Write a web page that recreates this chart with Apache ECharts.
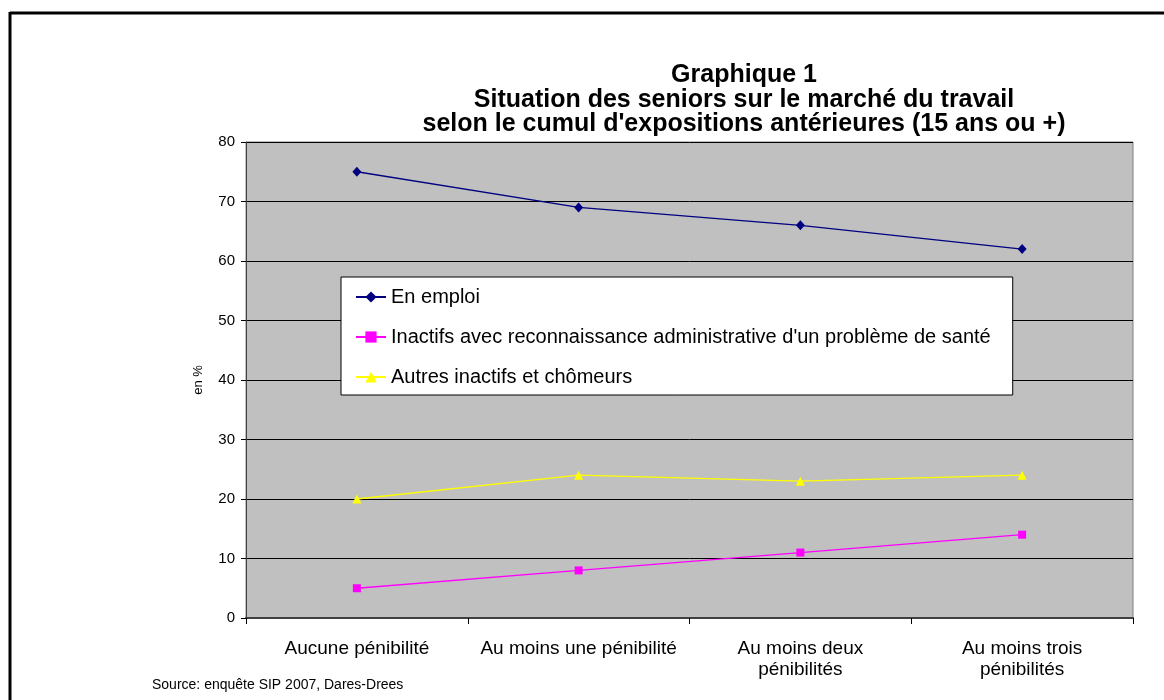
<!DOCTYPE html>
<html><head><meta charset="utf-8">
<script src="https://cdn.jsdelivr.net/npm/echarts@6/dist/echarts.min.js"></script>
<style>html,body{margin:0;padding:0;background:#fff}#c{width:1164px;height:700px}</style>
</head><body><div id="c"></div>
<script>
const categories = ["Aucune pénibilité", "Au moins une pénibilité", "Au moins deux\npénibilités", "Au moins trois\npénibilités"];
const enEmploi = [75, 69, 66, 62];
const inactifsSante = [5, 8, 11, 14];
const autresInactifs = [20, 24, 23, 24];
const seriesNames = ["En emploi", "Inactifs avec reconnaissance administrative d'un problème de santé", "Autres inactifs et chômeurs"];
const yTicks = [0, 10, 20, 30, 40, 50, 60, 70, 80];

const FONT = "Liberation Sans, Arial, sans-serif";
const chart = echarts.init(document.getElementById('c'), null, {renderer: 'canvas'});
chart.setOption({
  animation: false,
  backgroundColor: '#ffffff',
  textStyle: {fontFamily: FONT},
  title: {
    text: "Graphique 1\nSituation des seniors sur le marché du travail\nselon le cumul d'expositions antérieures (15 ans ou +)",
    left: 744, top: 63, textAlign: 'center', padding: 0,
    textStyle: {fontFamily: FONT, fontSize: 25, fontWeight: 'bold', color: '#000', lineHeight: 24.5}
  },
  graphic: [
    {type: 'line', shape: {x1: 10, y1: 13, x2: 1164, y2: 13}, style: {stroke: '#000', lineWidth: 3}, silent: true},
    {type: 'line', shape: {x1: 10, y1: 12, x2: 10, y2: 700}, style: {stroke: '#000', lineWidth: 3}, silent: true},
    {type: 'text', left: 152, top: 678, style: {text: 'Source: enquête SIP 2007, Dares-Drees', fontFamily: FONT, fontSize: 14, fill: '#000'}}
  ],
  legend: {
    orient: 'vertical', left: 341, top: 277,
    backgroundColor: '#ffffff', borderColor: '#000', borderWidth: 1,
    padding: [10, 22, 8, 14], itemGap: 20, itemWidth: 30, itemHeight: 14,
    textStyle: {fontFamily: FONT, fontSize: 20, color: '#000'},
    data: seriesNames
  },
  grid: {left: 246, right: 31, top: 142, bottom: 82, show: true, backgroundColor: '#c0c0c0', borderColor: '#808080', borderWidth: 1},
  xAxis: {
    type: 'category', data: categories, boundaryGap: true,
    axisLine: {lineStyle: {color: '#404040', width: 2}},
    axisTick: {show: true, inside: false, length: 6, alignWithLabel: false, lineStyle: {color: '#000'}},
    axisLabel: {fontFamily: FONT, fontSize: 19, color: '#000', margin: 20, lineHeight: 21, interval: 0}
  },
  yAxis: {
    type: 'value', min: 0, max: 80, interval: 10,
    name: 'en %', nameLocation: 'middle', nameGap: 41, nameRotate: 90,
    nameTextStyle: {fontFamily: FONT, fontSize: 13, color: '#000'},
    axisLine: {show: true, lineStyle: {color: '#404040', width: 1}},
    axisTick: {show: true, length: 5, lineStyle: {color: '#000'}},
    axisLabel: {fontFamily: FONT, fontSize: 15, color: '#000', margin: 11, formatter: v => yTicks.includes(v) ? String(v) : ''},
    splitLine: {show: true, lineStyle: {color: '#000', width: 1}}
  },
  series: [
    {name: seriesNames[0], type: 'line', data: enEmploi, color: '#000080', symbol: 'diamond', symbolSize: [9, 10], lineStyle: {width: 1.3, color: '#000080'}, itemStyle: {color: '#000080'}},
    {name: seriesNames[1], type: 'line', data: inactifsSante, color: '#ff00ff', symbol: 'rect', symbolSize: 8, lineStyle: {width: 1.3, color: '#ff00ff'}, itemStyle: {color: '#ff00ff'}},
    {name: seriesNames[2], type: 'line', data: autresInactifs, color: '#ffff00', symbol: 'triangle', symbolSize: 9, lineStyle: {width: 1.3, color: '#ffff00'}, itemStyle: {color: '#ffff00'}}
  ]
});
</script></body></html>
